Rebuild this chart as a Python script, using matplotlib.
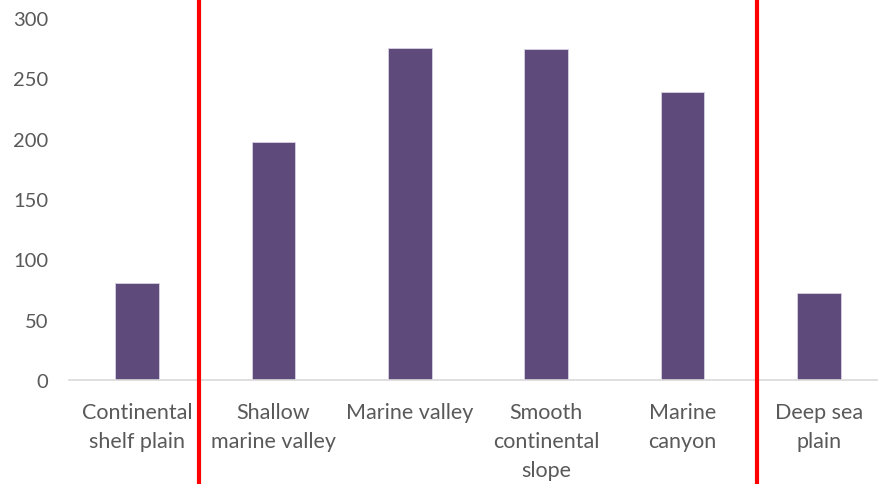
import matplotlib
matplotlib.use("Agg")
import matplotlib.pyplot as plt

# Data
categories = ["Continental\nshelf plain", "Shallow\nmarine valley", "Marine valley",
              "Smooth\ncontinental\nslope", "Marine\ncanyon", "Deep sea\nplain"]
values = [80, 197, 275, 274, 239, 72]
divider_positions = [0.45, 4.55]
yticks = [0, 50, 100, 150, 200, 250, 300]

plt.rcParams["font.family"] = ["Lato", "DejaVu Sans"]

fig = plt.figure(figsize=(8.79, 4.85), dpi=100)
ax = fig.add_axes([69 / 879, (485 - 381) / 485, (887 - 69) / 879, 362 / 485])

x = range(len(categories))
ax.bar(x, values, width=0.32, color="#5F4B7B", edgecolor="#D9D2E4", linewidth=0.6, zorder=2)

ax.set_xlim(-0.5, 5.5)
ax.set_ylim(0, 300)
ax.set_yticks(yticks)
ax.set_xticks(list(x))
ax.set_xticklabels(categories, linespacing=1.55, fontsize=15.5)

for side in ["top", "right", "left"]:
    ax.spines[side].set_visible(False)
ax.spines["bottom"].set_color("#D9D9D9")
ax.spines["bottom"].set_linewidth(1.2)

ax.tick_params(axis="y", length=0, labelsize=14.5, labelcolor="#595959", pad=15)
ax.tick_params(axis="x", length=0, labelcolor="#595959", pad=16)

# Red divider lines running the full height of the picture
for xpos in divider_positions:
    ax.axvline(xpos, ymin=-0.3, ymax=1.1, color="red", linewidth=3, clip_on=False, zorder=3)

fig.savefig("out.png", dpi=100)
